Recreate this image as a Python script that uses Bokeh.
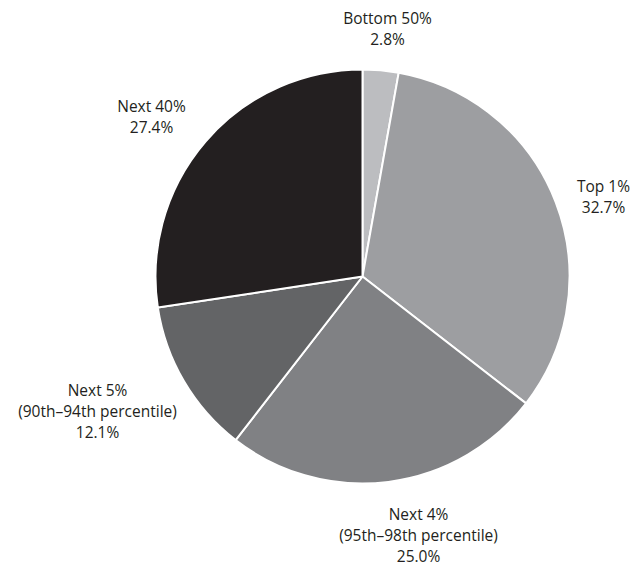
import math
from bokeh.plotting import figure
from bokeh.models import ColumnDataSource, Range1d
from bokeh.core.properties import value
from bokeh.embed import file_html
from bokeh.resources import INLINE

# Data (clockwise from 12 o'clock)
groups = ["Bottom 50%", "Top 1%", "Next 4%", "Next 5%", "Next 40%"]
shares = [2.8, 32.7, 25.0, 12.1, 27.4]
subtitles = ["", "", "(95th\u201398th percentile)", "(90th\u201394th percentile)", ""]
colors = ["#bcbdc0", "#9d9ea1", "#808184", "#636466", "#231f20"]

W, H = 631, 567
cx, cy, R = 362, H - 276, 207

# angles, clockwise from top
total = sum(shares)
starts, ends = [], []
a = math.pi / 2
for s in shares:
    b = a - s / total * 2 * math.pi
    starts.append(a)
    ends.append(b)
    a = b

src = ColumnDataSource(dict(start=starts, end=ends, color=colors,
                            x=[cx] * len(shares), y=[cy] * len(shares)))

p = figure(width=W, height=H, output_backend="svg", toolbar_location=None,
           x_range=Range1d(0, W), y_range=Range1d(0, H), min_border=0)
p.axis.visible = False
p.grid.visible = False
p.outline_line_color = None
p.background_fill_color = "white"

p.wedge(x="x", y="y", radius=R, start_angle="end", end_angle="start",
        fill_color="color", line_color="white", line_width=2, source=src)

# label anchors: x centre and screen y of first line
lx = [387, 603, 418, 97, 151]
ly_top = [17.5, 185, 513.5, 389, 105]
step = 21.2

tx, ty, tt = [], [], []
for g, s, sub, x0, y0 in zip(groups, shares, subtitles, lx, ly_top):
    parts = [g] + ([sub] if sub else []) + [f"{s:.1f}%"]
    for i, line in enumerate(parts):
        tx.append(x0)
        ty.append(H - (y0 + i * step))
        tt.append(line)

lsrc = ColumnDataSource(dict(x=tx, y=ty, text=tt))
p.text(x="x", y="y", text="text", source=lsrc, text_align="center",
       text_baseline="middle", text_font=value("Open Sans"),
       text_font_size="15.5px", text_color="#231f20")

open("out.html", "w").write(file_html(p, INLINE))
